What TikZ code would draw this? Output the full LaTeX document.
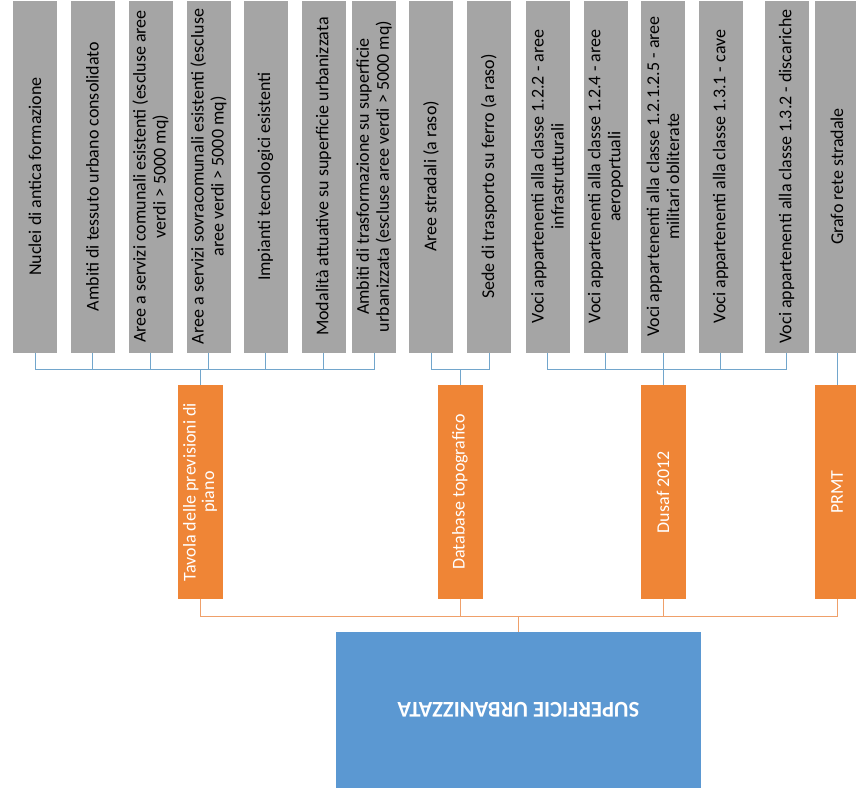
\documentclass[tikz,border=0pt]{standalone}
\usepackage{fontspec}
\setmainfont{Carlito}
\definecolor{greybox}{HTML}{A5A5A5}
\definecolor{orangebox}{HTML}{EF8536}
\definecolor{bluebox}{HTML}{5B98D2}
\definecolor{upline}{HTML}{72A6CC}
\definecolor{lowline}{HTML}{EFA06A}
\begin{document}
\begin{tikzpicture}[x=1pt,y=-1pt,
  src/.style={rotate=90, fill=greybox, draw=white, line width=0.6pt, minimum width=353pt, minimum height=45pt, inner sep=1pt, align=center, text=black, font=\fontsize{18}{20}\selectfont},
  dsrc/.style={rotate=90, fill=orangebox, minimum width=214pt, minimum height=45pt, inner sep=1pt, align=center, text=white, font=\fontsize{18}{18.5}\selectfont},
  result/.style={rotate=180, fill=bluebox, minimum width=365pt, minimum height=156pt, text=white, font=\fontsize{22.5}{26}\selectfont\bfseries},
  upl/.style={draw=upline, line width=0.9pt},
  lowl/.style={draw=lowline, line width=0.9pt}]
\useasboundingbox (0,0) rectangle (856,799);
\clip (0,0) rectangle (856,799);
\node[src] (g1) at (35,176.5) {Nuclei di antica formazione};
\node[src] (g2) at (92.5,176.5) {Ambiti di tessuto urbano consolidato};
\node[src] (g3) at (150.5,176.5) {Aree a servizi comunali esistenti (escluse aree\\verdi > 5000 mq)};
\node[src] (g4) at (208.5,176.5) {Aree a servizi sovracomunali esistenti (escluse\\aree verdi > 5000 mq)};
\node[src] (g5) at (265.5,176.5) {Impianti tecnologici esistenti};
\node[src] (g6) at (323.5,176.5) {Modalità attuative su superficie urbanizzata};
\node[src] (g7) at (374,176.5) {Ambiti di trasformazione su superficie\\urbanizzata (escluse aree verdi > 5000 mq)};
\node[src] (g8) at (431,176.5) {Aree stradali (a raso)};
\node[src] (g9) at (489,176.5) {Sede di trasporto su ferro (a raso)};
\node[src] (g10) at (547.5,176.5) {Voci appartenenti alla classe 1.2.2 - aree\\infrastrutturali};
\node[src] (g11) at (605.5,176.5) {Voci appartenenti alla classe 1.2.4 - aree\\aeroportuali};
\node[src] (g12) at (663,176.5) {Voci appartenenti alla classe 1.2.1.2.5 - aree\\militari obliterate};
\node[src] (g13) at (720.5,176.5) {Voci appartenenti alla classe 1.3.1 - cave};
\node[src] (g14) at (786.5,176.5) {Voci appartenenti alla classe 1.3.2 - discariche};
\node[src] (g15) at (837,176.5) {Grafo rete stradale};
\node[dsrc] (o1) at (200,492) {Tavola delle previsioni di\\piano};
\node[dsrc] (o2) at (460,492) {Database topografico};
\node[dsrc] (o3) at (663,492) {Dusaf 2012};
\node[dsrc] (o4) at (837,492) {PRMT};
\node[result] (r) at (518.5,710) {SUPERFICIE URBANIZZATA};
\coordinate (b1) at (200,369);
\coordinate (b2) at (460,369);
\coordinate (b3) at (663,369);
\coordinate (b4) at (518.5,616);
\foreach \i in {1,...,7} {\draw[upl] (g\i.west) |- (b1);}
\foreach \i in {8,9} {\draw[upl] (g\i.west) |- (b2);}
\foreach \i in {10,...,14} {\draw[upl] (g\i.west) |- (b3);}
\draw[upl] (b1) -- (o1.east);
\draw[upl] (b2) -- (o2.east);
\draw[upl] (b3) -- (o3.east);
\draw[upl] (g15.west) -- (o4.east);
\foreach \i in {1,...,4} {\draw[lowl] (o\i.west) |- (b4);}
\draw[lowl] (b4) -- (r.south);
\end{tikzpicture}
\end{document}
